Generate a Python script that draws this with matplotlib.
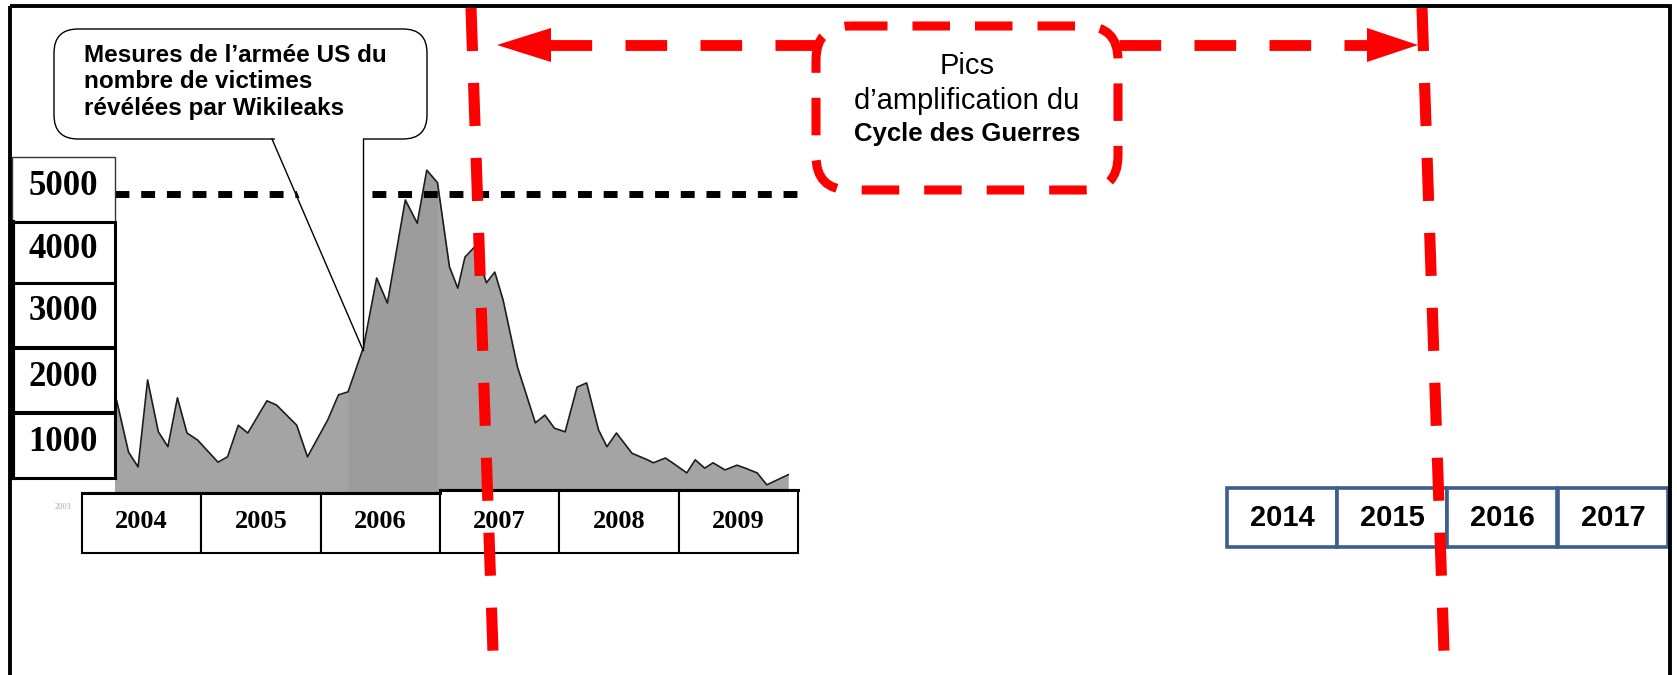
import matplotlib
matplotlib.use('Agg')
import matplotlib.pyplot as plt
from matplotlib.patches import Rectangle, FancyBboxPatch, Polygon
from matplotlib.transforms import blended_transform_factory

plt.rcParams['lines.scale_dashes'] = False
plt.rcParams['font.family'] = ['Liberation Sans', 'DejaVu Sans']

years = [2004.27, 2004.29, 2004.39, 2004.47, 2004.55, 2004.64, 2004.72, 2004.80, 2004.88, 2004.97,
         2005.14, 2005.22, 2005.31, 2005.39, 2005.55, 2005.63, 2005.80, 2005.89,
         2006.06, 2006.15, 2006.23, 2006.36, 2006.47, 2006.56, 2006.71, 2006.81, 2006.89, 2006.98,
         2007.08, 2007.15, 2007.21, 2007.29, 2007.39, 2007.46, 2007.53, 2007.65, 2007.80, 2007.88, 2007.96,
         2008.05, 2008.15, 2008.23, 2008.33, 2008.40, 2008.48, 2008.61, 2008.74, 2008.79, 2008.89, 2008.95,
         2009.07, 2009.14, 2009.22, 2009.29, 2009.39, 2009.49, 2009.56, 2009.66, 2009.74, 2009.92]
victims = [1550, 1540, 670, 420, 1880, 1010, 760, 1580, 990, 870,
           500, 590, 1120, 990, 1530, 1460, 1120, 590,
           1210, 1630, 1680, 2430, 3590, 3170, 4900, 4510, 5400, 5190,
           3780, 3420, 3940, 4110, 3510, 3690, 3220, 2100, 1160, 1290, 1070,
           1010, 1760, 1830, 1040, 760, 990, 650, 540, 490, 570, 490,
           320, 540, 400, 490, 370, 450, 400, 320, 120, 290]

value_labels = ['5000', '4000', '3000', '2000', '1000']
chart_years = ['2004', '2005', '2006', '2007', '2008', '2009']
cycle_years = ['2014', '2015', '2016', '2017']
bubble_text = "Mesures de l\u2019arm\u00e9e US du\nnombre de victimes\nr\u00e9v\u00e9l\u00e9es par Wikileaks"
cycle_lines = ['Pics', 'd\u2019amplification du', 'Cycle des Guerres']
threshold = 5000

W, H = 1677, 675
fig = plt.figure(figsize=(W / 100, H / 100), dpi=100)


def frac(x0, y0, x1, y1):
    return [x0 / W, 1 - y1 / H, (x1 - x0) / W, (y1 - y0) / H]


# scanned chart: 2004 starts at px 82, ~119.3 px per year, 0 at px 492, 5000 at px 194
px_year, x2004 = 119.3, 82
base_px, top5000_px = 492, 194
ax = fig.add_axes(frac(115, 155, 800, base_px))
ax.set_xlim(2004 + (115 - x2004) / px_year, 2004 + (800 - x2004) / px_year)
ax.set_ylim(0, threshold * (base_px - 155) / (base_px - top5000_px))
ax.fill_between(years, victims, color='#a4a4a4', lw=0)
ax.fill_between(years, victims, where=[2006.2 < y < 2007.05 for y in years],
                color='#7d7d7d', alpha=0.2, lw=0)
ax.plot(years, victims, color='#1c1c1c', lw=1.2)
ax.axhline(threshold, color='black', lw=5, dashes=(10, 8.5))
ax.axis('off')
ax.set_zorder(1)

ov = fig.add_axes([0, 0, 1, 1])
ov.set_xlim(0, W)
ov.set_ylim(H, 0)
ov.axis('off')
ov.patch.set_alpha(0)
ov.set_zorder(2)
bt = blended_transform_factory(ax.transData, ov.transData)

# value label boxes
tops = [157, 222, 283, 348, 413]
bots = [222, 283, 347, 412, 478]
for i, lab in enumerate(value_labels):
    ov.add_patch(Rectangle((12, tops[i]), 103, bots[i] - tops[i], fc='white',
                           ec='#333333' if i == 0 else 'black', lw=1.0 if i == 0 else 2.2))
    ov.text(63, (tops[i] + bots[i]) / 2 - 3, lab, ha='center', va='center',
            fontsize=25, fontweight='bold', family='Liberation Serif')
ov.plot([13, 13], [222, 478], color='black', lw=3)
ov.text(63, 507, '2003', ha='center', va='center', fontsize=6, color='#aaaaaa',
        family='Liberation Serif')

# year boxes under the scanned chart
for lab in chart_years:
    yr = int(lab)
    top = 493 if yr < 2007 else 490
    ov.add_patch(Rectangle((yr, top), 1, 553 - top, transform=bt, fc='white', ec='black', lw=1.5))
    ov.text(yr + 0.5, 521, lab, transform=bt, ha='center', va='center',
            fontsize=19, fontweight='bold', family='Liberation Serif')
ov.plot([int(chart_years[0]), int(chart_years[3])], [493, 493], transform=bt, color='black', lw=2.2)
ov.plot([int(chart_years[3]), int(chart_years[-1]) + 1], [490, 490], transform=bt, color='black', lw=2.2)

# callout bubble
ov.add_patch(FancyBboxPatch((54, 29), 373, 110, boxstyle='round,pad=0,rounding_size=24',
                            fc='white', ec='black', lw=1.0))
ov.add_patch(Polygon([(272, 132), (363, 132), (363, 350)], closed=True, fc='white', ec='none'))
ov.plot([272, 363], [139, 350], color='black', lw=1.0)
ov.plot([363, 363], [139, 350], color='black', lw=1.0)
ov.text(84, 82, bubble_text, ha='left', va='center', fontsize=17.5, fontweight='bold',
        linespacing=1.17)

# red double arrow and dashed rounded box
red = '#ff0000'
ov.plot([550, 817], [45, 45], color=red, lw=7.8, dashes=(30, 24))
ov.plot([1119, 1368], [45, 45], color=red, lw=7.8, dashes=(30, 24))
ov.add_patch(Polygon([(497, 45), (551, 28), (551, 62)], closed=True, fc=red, ec='none'))
ov.add_patch(Polygon([(1418, 45), (1367, 28), (1367, 62)], closed=True, fc=red, ec='none'))
ov.add_patch(FancyBboxPatch((816, 26), 302, 164, boxstyle='round,pad=0,rounding_size=34',
                            fc='white', ec=red, lw=6.5, ls=(0, (27, 18))))
ov.text(967, 66, cycle_lines[0], ha='center', va='center', fontsize=21)
ov.text(967, 101, cycle_lines[1], ha='center', va='center', fontsize=21)
ov.text(967, 134, cycle_lines[2], ha='center', va='center', fontsize=18.5, fontweight='bold')

# right-hand year boxes
blue = '#3d5e8c'
xs = [1227, 1337, 1447, 1558]
for i, lab in enumerate(cycle_years):
    ov.add_patch(Rectangle((xs[i], 488), 110, 59, fc='white', ec=blue, lw=2.6))
    ov.text(xs[i] + 55, 518, lab, ha='center', va='center', fontsize=21, fontweight='bold')

# vertical red dashed bounds
ov.plot([471, 493], [8, 652], color=red, lw=8, dashes=(31, 23), zorder=5)
ov.plot([1422, 1444], [8, 652], color=red, lw=8, dashes=(31, 23), zorder=5)

# outer frame
ov.add_patch(Rectangle((10, 6), 1660, 700, fill=False, ec='black', lw=2.8, zorder=6))

fig.savefig('out.png', dpi=100)
